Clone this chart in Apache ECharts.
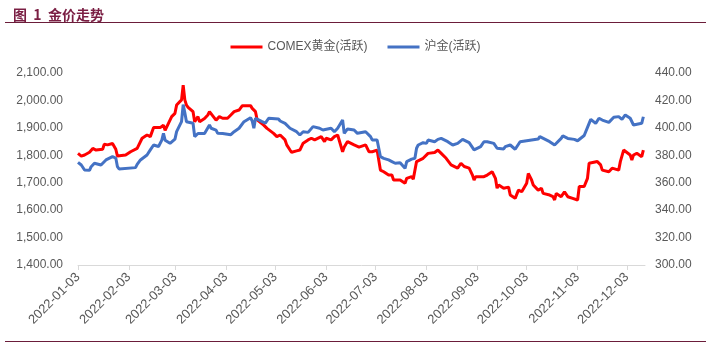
<!DOCTYPE html>
<html><head><meta charset="utf-8">
<script src="https://cdn.jsdelivr.net/npm/echarts@6/dist/echarts.min.js"></script>
<style>html,body{margin:0;padding:0;background:#fff}#c{width:711px;height:346px}</style>
</head><body><div id="c"></div>
<script>
var titleText = '图  1  金价走势';
var seriesNames = ['COMEX黄金(活跃)', '沪金(活跃)'];
var leftTicks = [1400, 1500, 1600, 1700, 1800, 1900, 2000, 2100];
var rightTicks = [300, 320, 340, 360, 380, 400, 420, 440];
var xTickDates = ['2022-01-03','2022-02-03','2022-03-03','2022-04-03','2022-05-03','2022-06-03','2022-07-03','2022-08-03','2022-09-03','2022-10-03','2022-11-03','2022-12-03'];
var xMin = '2022-01-03', xMax = '2022-12-14';

var comexDates = ['01-03','01-05','01-07','01-10','01-12','01-14','01-18','01-19','01-21','01-24','01-25','01-26','01-27','01-28',
'02-01','02-04','02-08','02-11','02-14','02-16','02-18','02-22','02-24','02-25',
'03-01','03-03','03-04','03-07','03-08','03-09','03-10','03-11','03-14','03-15','03-17','03-18','03-21','03-23','03-24','03-28','03-30',
'04-01','04-04','04-06','04-08','04-11','04-13','04-14','04-18','04-19','04-21','04-22','04-26','04-28',
'05-02','05-04','05-06','05-09','05-10','05-12','05-13','05-16','05-18','05-20','05-23','05-25','05-27','05-31',
'06-02','06-03','06-06','06-08','06-10','06-13','06-14','06-16','06-20','06-21','06-23','06-27','06-29',
'07-01','07-04','07-06','07-08','07-11','07-13','07-14','07-18','07-19','07-21','07-22','07-25','07-26','07-28','07-29',
'08-01','08-02','08-04','08-05','08-08','08-10','08-12','08-15','08-18','08-22','08-24','08-26','08-29','08-31',
'09-01','09-02','09-07','09-09','09-12','09-14','09-15','09-16','09-19','09-20','09-22','09-23','09-26','09-27','09-28','09-30',
'10-03','10-04','10-06','10-07','10-10','10-12','10-13','10-17','10-19','10-20','10-21','10-24','10-26','10-28','10-31',
'11-01','11-03','11-04','11-07','11-09','11-10','11-11','11-15','11-17','11-18','11-22','11-24','11-28','11-29',
'12-01','12-05','12-06','12-07','12-09','12-12','12-13'];
var comexValues = [1807,1797,1801,1811,1825,1819,1822,1840,1838,1843,1850,1822,1797,1795,
1801,1813,1825,1862,1874,1868,1901,1901,1910,1891,
1941,1953,1983,2002,2056,2002,1983,1975,1959,1922,1941,1922,1934,1947,1959,1928,1941,
1935,1935,1947,1959,1965,1981,1983,1981,1971,1959,1929,1910,1898,
1880,1868,1874,1856,1838,1819,1811,1816,1819,1844,1856,1862,1856,1868,
1850,1862,1856,1868,1874,1813,1830,1850,1838,1844,1830,1838,1813,
1813,1819,1746,1740,1728,1728,1710,1710,1712,1698,1716,1722,1713,1777,1783,
1789,1795,1807,1801,1810,1819,1807,1789,1765,1753,1771,1759,1753,1728,
1710,1722,1722,1728,1740,1716,1680,1692,1680,1686,1684,1655,1643,1643,1673,1667,
1698,1734,1710,1692,1673,1680,1661,1655,1649,1637,1661,1649,1667,1649,1643,
1649,1637,1686,1686,1716,1771,1777,1777,1765,1746,1740,1753,1746,1777,
1819,1801,1783,1801,1807,1795,1819];

var shfeDates = ['01-03','01-05','01-07','01-10','01-11','01-13','01-17','01-18','01-20','01-24','01-25','01-26','01-27','01-28',
'02-07','02-08','02-10','02-11','02-14','02-16','02-17','02-18','02-21','02-23','02-24','02-25','02-28',
'03-03','03-04','03-07','03-08','03-09','03-10','03-11','03-14','03-15','03-17','03-21','03-22','03-24','03-25','03-28','03-29','03-30',
'04-01','04-06','04-08','04-11','04-14','04-18','04-19','04-20','04-21','04-25','04-27','04-29',
'05-05','05-06','05-09','05-10','05-12','05-13','05-16','05-18','05-20','05-23','05-26','05-30',
'06-01','06-06','06-08','06-10','06-13','06-14','06-16','06-20','06-21','06-22','06-23','06-27','06-30',
'07-01','07-04','07-06','07-08','07-11','07-13','07-15','07-18','07-19','07-21','07-22','07-25','07-27','07-28','07-29',
'08-01','08-03','08-04','08-08','08-10','08-12','08-16','08-19','08-22','08-25','08-29',
'09-01','09-05','09-07','09-09','09-13','09-14','09-15','09-19','09-20','09-23','09-26','09-29','09-30',
'10-10','10-11','10-12','10-17','10-20','10-24','10-25','10-28',
'11-01','11-03','11-07','11-10','11-11','11-14','11-16','11-18','11-22','11-25','11-28','11-30',
'12-02','12-05','12-07','12-08','12-12','12-13'];
var shfeValues = [374.9,372.9,369.3,369.0,371.7,374.2,372.9,371.7,376.6,379.0,377.8,378.0,371.7,370.0,
371.0,373.4,376.6,376.0,380.2,383.9,383.0,387.5,386.4,391.1,396.0,391.0,388.7,
391.8,397.2,404.5,417.0,411.0,404.5,404.0,403.4,393.6,395.9,395.9,397.2,402.1,399.7,398.4,396.0,394.8,
395.9,395.0,397.2,399.7,404.5,407.4,405.0,399.7,407.0,404.5,403.4,407.0,
406.5,405.0,403.3,404.5,399.7,400.9,397.2,394.8,397.2,396.7,400.9,399.7,
398.4,399.7,397.2,399.7,405.7,396.0,399.2,398.4,397.2,396.0,396.0,397.2,393.6,
391.2,391.2,379.0,377.8,376.6,375.4,374.2,374.6,375.4,370.5,375.4,377.2,377.8,385.1,387.5,
389.2,388.7,391.1,389.9,391.6,392.3,389.9,387.5,388.7,391.6,389.2,
383.9,386.3,389.9,389.9,388.7,387.5,385.1,384.6,386.3,387.5,384.4,389.9,390.2,
391.8,393.6,393.1,389.9,387.5,392.3,394.1,392.3,
391.6,390.6,394.4,403.3,406.2,403.3,407.0,405.7,404.0,407.7,408.2,406.2,
409.4,407.0,402.1,403.3,403.3,408.1];

function ts(s){var p=s.split('-');return Date.UTC(+p[0],+p[1]-1,+p[2]);}
function pair(dates, vals){return dates.map(function(d,i){return [ts('2022-'+d), vals[i]];});}
function fmtNum(v){var s=v.toFixed(2).split('.');s[0]=s[0].replace(/\B(?=(\d{3})+(?!\d))/g,',');return s.join('.');}
function pad(n){return n<10?'0'+n:''+n;}
function fmtDate(v){var d=new Date(v);return d.getUTCFullYear()+'-'+pad(d.getUTCMonth()+1)+'-'+pad(d.getUTCDate());}

var font = 'Liberation Sans, Noto Sans CJK SC, sans-serif';
var tickTs = xTickDates.map(ts);
var chart = echarts.init(document.getElementById('c'), null, {renderer:'canvas'});
chart.setOption({
  animation:false,
  backgroundColor:'#ffffff',
  title:{text:titleText,left:8,top:3,textStyle:{fontFamily:'Noto Sans CJK SC',fontSize:14,fontWeight:'bold',color:'#7a1e43'}},
  graphic:[
    {type:'line',shape:{x1:5,y1:22.5,x2:706,y2:22.5},style:{stroke:'#6b1d3a',lineWidth:1.2},silent:true},
    {type:'line',shape:{x1:5,y1:341.5,x2:706,y2:341.5},style:{stroke:'#6b1d3a',lineWidth:1.2},silent:true}
  ],
  legend:{top:36,left:'center',icon:'rect',itemWidth:32,itemHeight:3,itemGap:20,
    textStyle:{fontFamily:font,fontSize:12,color:'#595959'},data:seriesNames},
  grid:{left:78,right:66,top:73,bottom:81,containLabel:false},
  xAxis:{type:'value',min:ts(xMin),max:ts(xMax),scale:true,
    axisLine:{show:true,lineStyle:{color:'#d9d9d9',width:1}},
    axisTick:{show:true,customValues:tickTs,length:5,lineStyle:{color:'#d9d9d9'}},
    axisLabel:{customValues:tickTs,rotate:45,margin:10,fontFamily:font,fontSize:13,color:'#595959',formatter:function(v){return fmtDate(v);}},
    splitLine:{show:false}},
  yAxis:[
    {type:'value',min:leftTicks[0],max:leftTicks[leftTicks.length-1],interval:100,
      axisLine:{show:false},axisTick:{show:false},splitLine:{show:false},
      axisLabel:{margin:15,fontFamily:font,fontSize:12,color:'#595959',formatter:function(v){return fmtNum(v);}}},
    {type:'value',min:rightTicks[0],max:rightTicks[rightTicks.length-1],interval:20,
      axisLine:{show:false},axisTick:{show:false},splitLine:{show:false},
      axisLabel:{margin:10,fontFamily:font,fontSize:12,color:'#595959',formatter:function(v){return fmtNum(v);}}}
  ],
  series:[
    {name:seriesNames[0],type:'line',yAxisIndex:0,data:pair(comexDates,comexValues),showSymbol:false,symbol:'none',
      lineStyle:{color:'#ff0000',width:3},itemStyle:{color:'#ff0000'}},
    {name:seriesNames[1],type:'line',yAxisIndex:1,data:pair(shfeDates,shfeValues),showSymbol:false,symbol:'none',
      lineStyle:{color:'#4472c4',width:3},itemStyle:{color:'#4472c4'}}
  ]
});
</script></body></html>
